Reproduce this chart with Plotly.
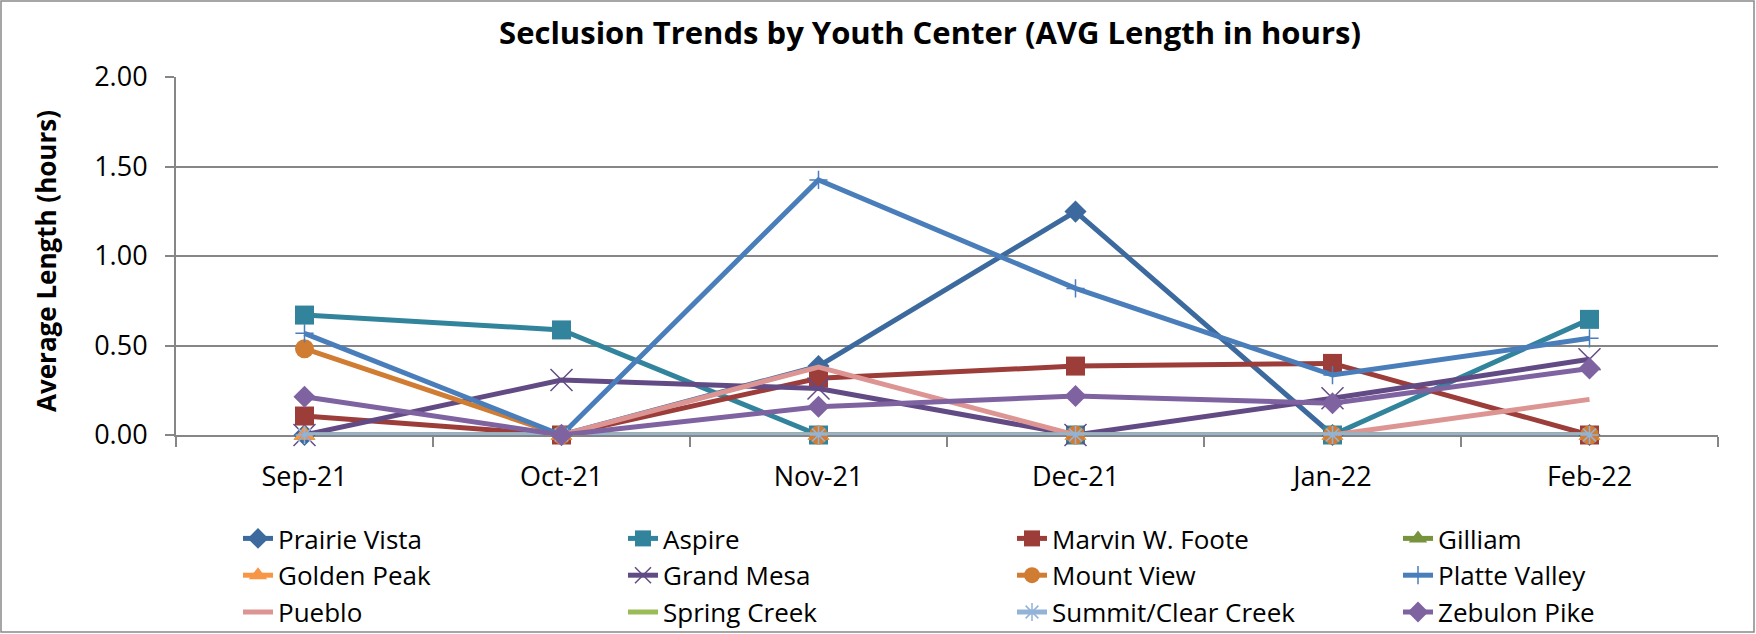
import plotly.graph_objects as go

months = ["Sep-21", "Oct-21", "Nov-21", "Dec-21", "Jan-22", "Feb-22"]

prairie_vista = [0, 0, 0.385, 1.248, 0, 0]
aspire = [0.670, 0.587, 0, 0, 0, 0.646]
marvin_w_foote = [0.106, 0, 0.317, 0.385, 0.400, 0]
gilliam = [0, 0, 0, 0, 0, 0]
golden_peak = [0, 0, 0, 0, 0, 0]
grand_mesa = [0, 0.307, 0.260, 0, 0.205, 0.423]
mount_view = [0.482, 0, 0, 0, 0, 0]
platte_valley = [0.568, 0, 1.425, 0.819, 0.335, 0.540]
pueblo = [0, 0, 0.380, 0, 0, 0.199]
spring_creek = [0, 0, 0, 0, 0, 0]
summit_clear_creek = [0, 0, 0, 0, 0, 0]
zebulon_pike = [0.214, 0, 0.158, 0.218, 0.177, 0.372]

y_ticks = [0, 0.5, 1.0, 1.5, 2.0]

series = [
    ("Prairie Vista", prairie_vista, "#3D6A9E", "diamond", 17),
    ("Aspire", aspire, "#31849B", "square", 19),
    ("Marvin W. Foote", marvin_w_foote, "#9C3D3A", "square", 19),
    ("Gilliam", gilliam, "#77933C", "triangle-up", 19),
    ("Golden Peak", golden_peak, "#F79646", "triangle-up", 19),
    ("Grand Mesa", grand_mesa, "#624B85", "x-thin-open", 22),
    ("Mount View", mount_view, "#D07C33", "circle", 19),
    ("Platte Valley", platte_valley, "#4A7EBB", "cross-thin-open", 13),
    ("Pueblo", pueblo, "#DC9593", None, 0),
    ("Spring Creek", spring_creek, "#9BBB59", None, 0),
    ("Summit/Clear Creek", summit_clear_creek, "#93B3D7", "asterisk-open", 15),
    ("Zebulon Pike", zebulon_pike, "#7F63A1", "diamond", 17),
]

FONT = "Open Sans"
legend_names = ["legend", "legend2", "legend3", "legend4"]

fig = go.Figure()
for i, (name, vals, color, sym, size) in enumerate(series):
    lg = legend_names[i % 4]
    if sym is None:
        fig.add_trace(go.Scatter(
            x=months, y=vals, name=name, mode="lines", legend=lg,
            line=dict(color=color, width=5), cliponaxis=False))
    else:
        thin = sym.endswith("-open")
        fig.add_trace(go.Scatter(
            x=months, y=vals, name=name, mode="lines+markers", legend=lg,
            line=dict(color=color, width=5),
            marker=dict(symbol=sym, size=size, color=color,
                        line=dict(color=color, width=1.5 if thin else 0)),
            cliponaxis=False))

L, R, T, B = 176, 38, 77, 199
W, H = 1756, 634
pw, ph = W - L - R, H - T - B

legend_text_x = [278, 663, 1052, 1438]
legend_top = 515
legend_style = dict(orientation="v", xref="container", yref="container",
                    xanchor="left", yanchor="top",
                    font=dict(family=FONT, size=26, color="black"),
                    bgcolor="rgba(0,0,0,0)", borderwidth=0, itemsizing="trace")
legends = {}
for k, lg in enumerate(legend_names):
    legends[lg] = dict(legend_style, x=(legend_text_x[k] - 40) / W,
                       y=1 - legend_top / H)

fig.update_layout(
    width=W, height=H,
    margin=dict(l=L, r=R, t=T, b=B, autoexpand=False),
    paper_bgcolor="white", plot_bgcolor="white",
    font=dict(family=FONT, size=27, color="black"),
    title=dict(text="<b>Seclusion Trends by Youth Center (AVG Length in hours)</b>",
               x=930 / W, xanchor="center", y=1 - 33 / H, yanchor="middle",
               font=dict(family=FONT, size=31, color="black")),
    xaxis=dict(type="category", range=[-0.5, 5.5], showgrid=False,
               showline=True, linecolor="#868686", linewidth=2,
               ticks="outside", tickson="boundaries", ticklen=10, tickcolor="#868686",
               tickwidth=2, layer="below traces", ticklabelstandoff=17,
               tickfont=dict(family=FONT, size=27)),
    yaxis=dict(range=[0, 2], tickvals=y_ticks, tickformat=".2f",
               showgrid=True, gridcolor="#868686", gridwidth=1.5,
               showline=True, linecolor="#868686", linewidth=2,
               ticks="outside", ticklen=9, tickcolor="#868686", tickwidth=2,
               zeroline=False, layer="below traces", ticklabelstandoff=12,
               tickfont=dict(family=FONT, size=27)),
    annotations=[dict(text="<b>Average Length (hours)</b>", textangle=-90,
                      xref="paper", yref="paper",
                      x=(46 - L) / pw, y=(T + ph - 261) / ph,
                      xanchor="center", yanchor="middle", showarrow=False,
                      font=dict(family=FONT, size=26, color="black"))],
    shapes=[dict(type="rect", xref="paper", yref="paper",
                 x0=(1 - L) / pw, x1=(W - 2 - L) / pw,
                 y0=(T + ph - (H - 2)) / ph, y1=(T + ph - 1) / ph,
                 line=dict(color="#898989", width=1.5), fillcolor="rgba(0,0,0,0)",
                 layer="below")],
    showlegend=True,
    **legends,
)

fig.write_html("out.html", config={"displayModeBar": False},
               post_script="document.body.style.margin='0px';")
